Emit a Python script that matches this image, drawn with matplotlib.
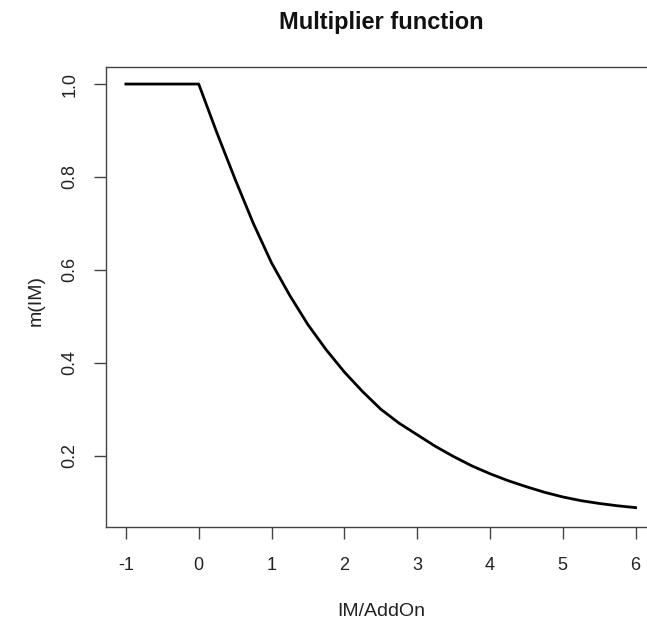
import numpy as np
import matplotlib
matplotlib.use("Agg")
import matplotlib.pyplot as plt

plt.rcParams['font.family'] = ['Liberation Sans', 'DejaVu Sans']

# values
im_ratio = [-1, 0, 0.25, 0.5, 0.75, 1, 1.25, 1.5, 1.75, 2, 2.25, 2.5, 2.75, 3,
            3.25, 3.5, 3.75, 4, 4.25, 4.5, 4.75, 5, 5.25, 5.5, 5.75, 6]
multiplier = [1, 1, 0.895, 0.795, 0.70, 0.615, 0.545, 0.482, 0.428, 0.38, 0.338, 0.300,
              0.270, 0.245, 0.220, 0.198, 0.178, 0.161, 0.146, 0.133, 0.121, 0.111,
              0.103, 0.097, 0.092, 0.088]

x_ticks = [-1, 0, 1, 2, 3, 4, 5, 6]
y_ticks = [0.2, 0.4, 0.6, 0.8, 1.0]

fig = plt.figure(figsize=(6.47, 6.24), dpi=100)
# right edge of the box is cut off in the reference
ax = fig.add_axes([105.5 / 647, 1 - 527 / 624, (656 - 105.5) / 647, (527 - 67) / 624])

ax.plot(im_ratio, multiplier, color="black", linewidth=2.0)

ax.set_xlim(-1.28, 6.28)
ax.set_ylim(0.0463, 1.0367)
ax.set_xticks(x_ticks)
ax.set_xticklabels([str(t) for t in x_ticks])
ax.set_yticks(y_ticks)
ax.set_yticklabels(["%.1f" % t for t in y_ticks], rotation=90, va="center")

for s in ax.spines.values():
    s.set_color("#444444")
    s.set_linewidth(1.0)
ax.tick_params(axis="both", direction="out", length=8.6, width=1.0, color="#444444",
               labelsize=13, labelcolor="#222222")
ax.tick_params(axis="x", pad=13)
ax.tick_params(axis="y", pad=11)

fig.text(381 / 647, 1 - 23 / 624, "Multiplier function", ha="center", va="center",
         fontsize=17, fontweight="bold", color="#111111")
fig.text(381 / 647, 1 - 611 / 624, "IM/AddOn", ha="center", va="center",
         fontsize=14, color="#222222")
fig.text(36 / 647, 1 - 300 / 624, "m(IM)", ha="center", va="center", rotation=90,
         fontsize=14, color="#222222")

fig.savefig("out.png", dpi=100)
